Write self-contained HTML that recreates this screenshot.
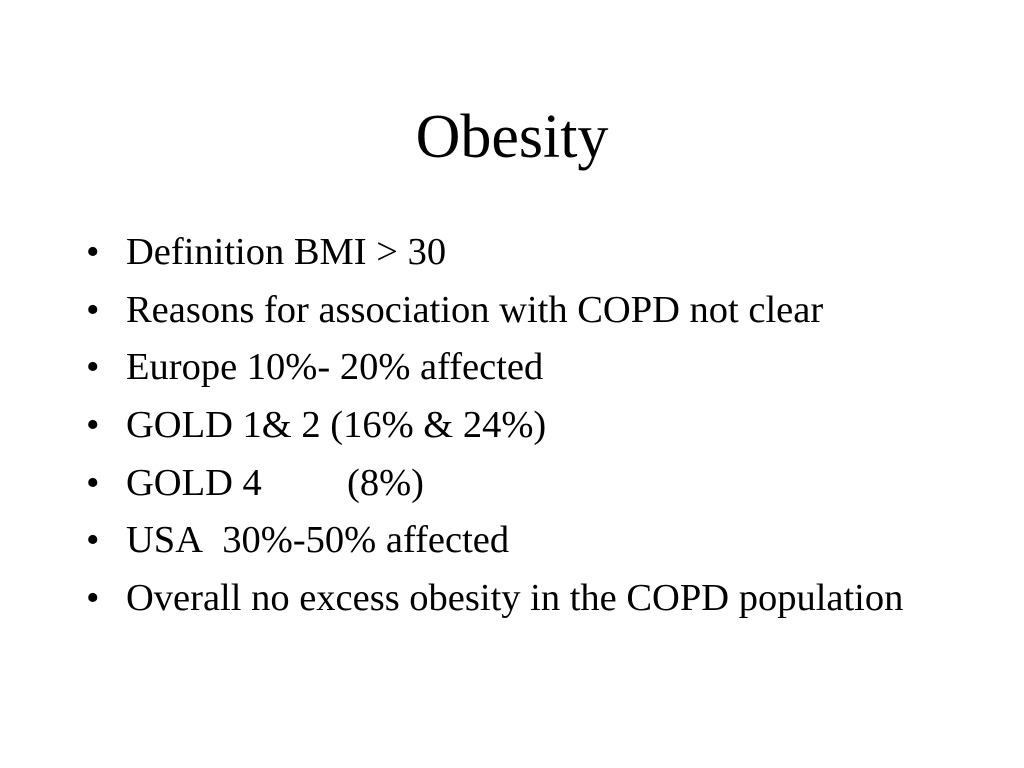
<!DOCTYPE html>
<html>
<head>
<meta charset="utf-8">
<style>
  html,body{margin:0;padding:0;background:#fff;}
  #slide{position:relative;width:1024px;height:768px;overflow:hidden;background:#fff;font-family:"Liberation Serif","Times New Roman",serif;color:#000;}
  #title{position:absolute;left:0;top:106px;width:1024px;text-align:center;font-size:62px;line-height:62px;}
  .item{position:absolute;left:0;height:57.7px;font-size:38.5px;line-height:57.7px;white-space:nowrap;}
  .bullet{position:absolute;left:86px;}
  .txt{position:absolute;left:126px;}
</style>
</head>
<body>
<div id="slide">
  <div id="title">Obesity</div>
  <div class="item" style="top:224px"><span class="bullet">•</span><span class="txt">Definition BMI &gt; 30</span></div>
  <div class="item" style="top:282px"><span class="bullet">•</span><span class="txt">Reasons for association with COPD not clear</span></div>
  <div class="item" style="top:339px"><span class="bullet">•</span><span class="txt">Europe 10%- 20% affected</span></div>
  <div class="item" style="top:397px"><span class="bullet">•</span><span class="txt">GOLD 1&amp; 2 (16% &amp; 24%)</span></div>
  <div class="item" style="top:455px"><span class="bullet">•</span><span class="txt">GOLD 4</span><span style="position:absolute;left:347px">(8%)</span></div>
  <div class="item" style="top:512px"><span class="bullet">•</span><span class="txt">USA&nbsp; 30%-50% affected</span></div>
  <div class="item" style="top:570px"><span class="bullet">•</span><span class="txt">Overall no excess obesity in the COPD population</span></div>
</div>
</body>
</html>
